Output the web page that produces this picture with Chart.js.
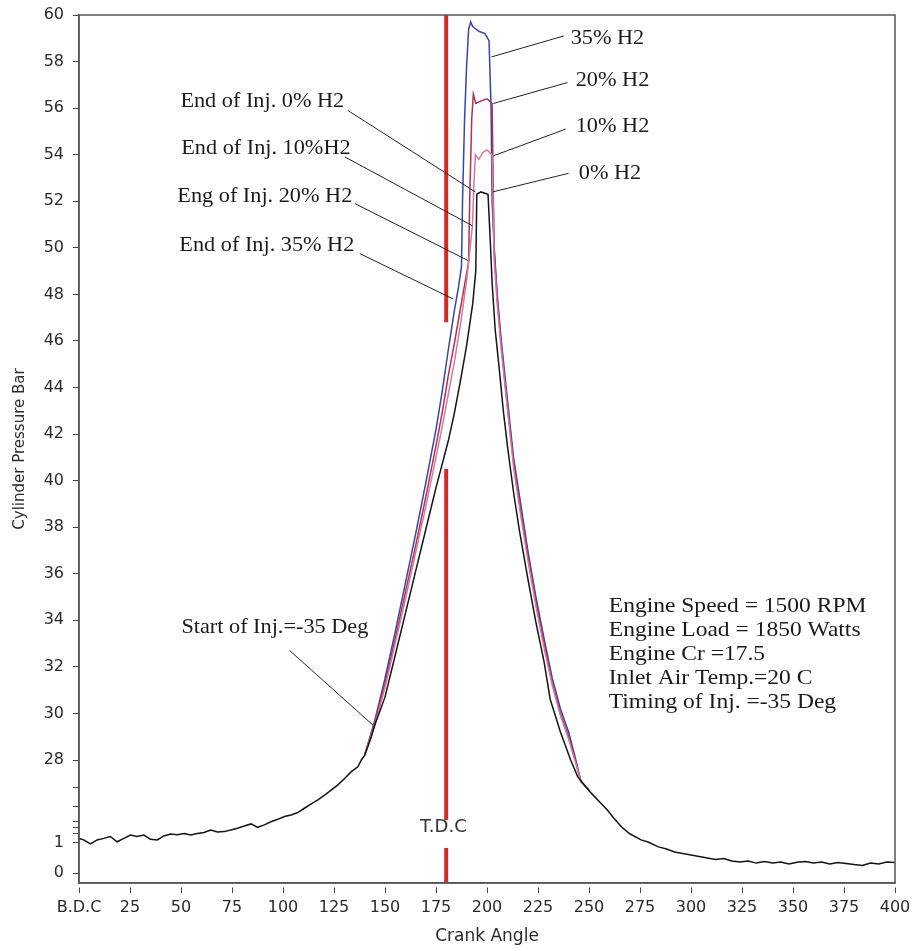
<!DOCTYPE html>
<html>
<head>
<meta charset="utf-8">
<script src="https://cdn.jsdelivr.net/npm/chart.js@4.4.1/dist/chart.umd.min.js"></script>
<style>
  html, body { margin: 0; padding: 0; background: #fff; }
  #wrap { width: 916px; height: 951px; position: relative; }
</style>
</head>
<body>
<div id="wrap"><canvas id="pressureChart" width="916" height="951"></canvas></div>
<script>
"use strict";

// ---- data (crank angle in deg, pressure in bar) ----
const angle0 = [0, 2.3, 5.6, 8.9, 12.1, 15.4, 18.7, 22, 25.2, 28.5, 31.8, 35.1, 38.4, 41.6, 44.9, 48.2, 51.5, 54.8, 58, 61.3,
  64.6, 67.9, 71.2, 74.4, 77.7, 81, 84.3, 87.6, 90.8, 94.1, 97.4, 100.7, 104, 107.2, 110.5, 113.8, 117.1, 120.4, 123.6, 126.9,
  130.2, 133.5, 136.7, 138.4, 140, 141.7, 143.3, 145, 150, 155, 160, 165, 170, 175, 178, 181, 184, 187, 190, 192, 193, 194.5,
  195, 197, 200.5, 201.5, 202.5, 204, 206, 208, 210, 213, 216, 220, 224, 228, 231, 236, 241, 244.5, 248, 251, 255, 259, 262,
  266, 270, 275.5, 279, 284, 288, 292, 296, 300, 304, 308, 312, 316, 320, 324, 328, 332, 336, 340, 344, 348, 352, 356, 360,
  364, 368, 372, 376, 380, 384, 388, 392, 396, 400];
const p0 = [2.5, 2.0, 0.97, 2.0, 2.5, 3.1, 1.4, 2.5, 3.6, 3.1, 3.6, 2.2, 2.0, 3.3, 3.9, 3.7, 4.1, 3.6, 4.1, 4.4,
  5.2, 4.6, 4.7, 5.2, 5.8, 6.5, 7.2, 6.1, 6.9, 7.9, 8.7, 9.6, 10.1, 10.9, 12.3, 13.7, 15.0, 16.6, 18.2, 19.9,
  22.0, 24.2, 25.8, 28.0, 28.2, 28.6, 29.0, 29.5, 30.7, 32.5, 34.3, 36.1, 37.9, 39.7, 40.7, 41.7, 42.9, 44.3, 45.8, 47.0, 47.6, 49.0,
  52.3, 52.4, 52.3, 50.5, 48.5, 46.5, 44.8, 43.0, 41.5, 39.5, 37.8, 35.8, 33.9, 32.2, 30.6, 29.2, 28.0, 22.5, 19.6, 17.3, 14.5, 11.7, 9.2,
  6.2, 4.0, 2.0, 1.3, 0.87, 0.8, 0.7, 0.65, 0.6, 0.55, 0.5, 0.45, 0.48, 0.4, 0.37, 0.4, 0.33, 0.38, 0.33, 0.37, 0.3, 0.36, 0.38, 0.33,
  0.37, 0.3, 0.35, 0.32, 0.28, 0.25, 0.33, 0.3, 0.37, 0.35];

const angle10 = [140, 145, 150, 155, 160, 165, 170, 175, 178, 181, 184, 187, 190, 192.8, 193.5, 194.3, 196, 198, 200, 202.5,
  203, 203.5, 205, 207, 210, 213, 216, 220, 224, 228, 232, 236, 240, 243, 246, 250];
const p10 = [28.2, 29.5, 31.1, 33.0, 34.9, 36.9, 38.9, 41.0, 42.3, 43.7, 45.1, 46.7, 48.6, 50.9, 52.5, 54.0, 53.8, 54.1, 54.2, 54.0,
  52.0, 49.5, 47.6, 45.6, 43.1, 40.6, 38.8, 36.6, 34.6, 32.8, 31.2, 29.9, 28.9, 28.0, 21.0, 18.3];

const angle20 = [140, 145, 150, 155, 160, 165, 170, 175, 178, 181, 184, 187, 190, 191, 191.5, 192.5, 193.3, 194.5, 197, 200, 202.5,
  203, 203.5, 205, 207, 210, 213, 216, 220, 224, 228, 232, 236, 240, 243, 246, 250];
const p20 = [28.2, 29.6, 31.3, 33.2, 35.2, 37.2, 39.3, 41.5, 42.9, 44.5, 45.9, 47.4, 48.9, 49.4, 52.0, 55.5, 56.6, 56.2, 56.3, 56.4, 56.2,
  53.0, 50.0, 47.8, 45.8, 43.2, 40.8, 39.0, 36.8, 34.8, 33.0, 31.3, 30.0, 29.0, 28.1, 21.0, 18.3];

const angle35 = [140, 145, 150, 155, 160, 165, 170, 175, 178, 181, 184, 186, 187.5, 188, 189, 190, 191, 192, 193, 196, 199, 201,
  202, 202.5, 203.5, 205, 207, 210, 213, 216, 220, 224, 228, 232, 236, 240, 243, 246, 250];
const p35 = [28.2, 29.7, 31.5, 33.5, 35.6, 37.7, 39.9, 42.2, 43.8, 45.6, 47.3, 48.3, 49.2, 52.0, 55.5, 57.8, 59.4, 59.7, 59.5, 59.3, 59.2, 58.9,
  56.0, 52.0, 50.0, 48.0, 46.0, 43.5, 41.0, 39.3, 37.0, 35.0, 33.2, 31.5, 30.2, 29.2, 28.2, 21.0, 18.3];

// T.D.C marker, broken where the label and the annotations sit
const tdcAngle = [180, 180, 180, 180, 180, 180, 180, 180];
const tdcP = [60, 46.8, null, 40.5, 8.5, null, 0.83, -0.33];

const xTicks = [0, 25, 50, 75, 100, 125, 150, 175, 200, 225, 250, 275, 300, 325, 350, 375, 400];
const yTicks = [0, 1, 4, 6, 8, 13, 19, 28, 30, 32, 34, 36, 38, 40, 42, 44, 46, 48, 50, 52, 54, 56, 58, 60];
const yLabelled = [0, 1, 28, 30, 32, 34, 36, 38, 40, 42, 44, 46, 48, 50, 52, 54, 56, 58, 60];

const infoLines = ["Engine Speed = 1500 RPM", "Engine Load = 1850 Watts", "Engine Cr =17.5",
  "Inlet Air Temp.=20 C", "Timing of Inj. =-35 Deg"];

// annotations: text anchor and leader line, all in data coordinates
const notes = [
  { text: "35% H2", at: [241, 59.0], line: [[237.6, 59.1], [202.2, 58.2]] },
  { text: "20% H2", at: [243.5, 57.2], line: [[239.5, 57.1], [203.1, 56.2]] },
  { text: "10% H2", at: [243.5, 55.2], line: [[238.6, 55.1], [203.1, 53.95]] },
  { text: "0% H2", at: [245, 53.2], line: [[240, 53.2], [202.7, 52.4]] },
  { text: "End of Inj. 0% H2", at: [49.7, 56.3], line: [[131.8, 55.9], [194.3, 52.4]] },
  { text: "End of Inj. 10%H2", at: [50.1, 54.25], line: [[130.4, 53.9], [192.8, 50.95]] },
  { text: "Eng of Inj. 20% H2", at: [48.2, 52.2], line: [[135.3, 51.9], [190.8, 49.45]] },
  { text: "End of Inj. 35% H2", at: [49.2, 50.1], line: [[137.7, 49.75], [183.5, 47.8]] },
  { text: "Start of Inj.=-35 Deg", at: [50.2, 33.7], line: [[103.3, 32.7], [144.1, 29.5]] }
];

// ---- broken y axis: value -> fraction of the axis height ----
const yBreaks = [[-0.33, 0], [0, 0.0115], [1, 0.0461], [28, 0.1417], [60, 1]];

function toDecimal(v) {
  let i = 1;
  while (i < yBreaks.length - 1 && v > yBreaks[i][0]) i++;
  const [v0, f0] = yBreaks[i - 1];
  const [v1, f1] = yBreaks[i];
  return f0 + (v - v0) * (f1 - f0) / (v1 - v0);
}
function fromDecimal(f) {
  let i = 1;
  while (i < yBreaks.length - 1 && f > yBreaks[i][1]) i++;
  const [v0, f0] = yBreaks[i - 1];
  const [v1, f1] = yBreaks[i];
  return v0 + (f - f0) * (v1 - v0) / (f1 - f0);
}

class BrokenScale extends Chart.LinearScale {
  buildTicks() { return yTicks.map(v => ({ value: v })); }
  getPixelForValue(v) { return this.getPixelForDecimal(toDecimal(v)); }
  getValueForPixel(p) { return fromDecimal(this.getDecimalForPixel(p)); }
}
BrokenScale.id = "broken";
BrokenScale.defaults = Chart.LinearScale.defaults;
Chart.register(BrokenScale);

const toPoints = (xs, ys) => xs.map((x, i) => ({ x: x, y: ys[i] }));

const serif = "'Liberation Serif', 'Times New Roman', serif";
const sans = "'DejaVu Sans', sans-serif";

// serif notes in the source are a bit wider than Liberation Serif
function stretchText(ctx, text, x, y, sx) {
  ctx.save();
  ctx.translate(x, y);
  ctx.scale(sx, 1);
  ctx.fillText(text, 0, 0);
  ctx.restore();
}

const notesPlugin = {
  id: "notes",
  afterDatasetsDraw(chart) {
    const { ctx, chartArea } = chart;
    const xs = chart.scales.x, ys = chart.scales.y;
    ctx.save();
    // plot frame
    ctx.strokeStyle = "#555";
    ctx.lineWidth = 1.5;
    ctx.strokeRect(chartArea.left, chartArea.top, chartArea.right - chartArea.left, chartArea.bottom - chartArea.top);

    ctx.strokeStyle = "#222";
    ctx.lineWidth = 1;
    ctx.fillStyle = "#1a1a1a";
    ctx.font = "21px " + serif;
    ctx.textBaseline = "middle";
    notes.forEach(n => {
      ctx.beginPath();
      ctx.moveTo(xs.getPixelForValue(n.line[0][0]), ys.getPixelForValue(n.line[0][1]));
      ctx.lineTo(xs.getPixelForValue(n.line[1][0]), ys.getPixelForValue(n.line[1][1]));
      ctx.stroke();
      stretchText(ctx, n.text, xs.getPixelForValue(n.at[0]), ys.getPixelForValue(n.at[1]), 1.06);
    });

    // engine conditions block
    const ix = xs.getPixelForValue(259.7);
    let iy = ys.getPixelForValue(34.6);
    infoLines.forEach(t => { stretchText(ctx, t, ix, iy, 1.12); iy += 24; });

    // T.D.C label
    ctx.font = "18px " + sans;
    ctx.textAlign = "center";
    ctx.fillStyle = "#333";
    ctx.fillText("T.D.C", xs.getPixelForValue(178.6), ys.getPixelForValue(6.0));
    ctx.restore();
  }
};

const curve = (label, xs, ys, color, order) => ({
  label: label, data: toPoints(xs, ys), borderColor: color, borderWidth: 1.5,
  pointRadius: 0, tension: 0, fill: false, order: order
});

new Chart(document.getElementById("pressureChart").getContext("2d"), {
  type: "line",
  data: {
    datasets: [
      curve("0% H2", angle0, p0, "#141414", 0),
      curve("10% H2", angle10, p10, "#d27aa4", 1),
      curve("20% H2", angle20, p20, "#b0304e", 2),
      curve("35% H2", angle35, p35, "#3446a8", 3),
      { label: "T.D.C", data: toPoints(tdcAngle, tdcP), borderColor: "#d3282c", borderWidth: 4,
        pointRadius: 0, spanGaps: false, order: 5 }
    ]
  },
  options: {
    responsive: false,
    animation: false,
    events: [],
    layout: { padding: { top: 15, right: 21, bottom: 0, left: 0 } },
    plugins: { legend: { display: false }, tooltip: { enabled: false } },
    scales: {
      x: {
        type: "linear", min: 0, max: 400,
        afterBuildTicks: s => { s.ticks = xTicks.map(v => ({ value: v })); },
        afterFit: s => { s.height = 68; },
        border: { display: true, color: "#555", width: 1.5 },
        grid: { display: true, drawOnChartArea: false, drawTicks: true, tickLength: 10,
          tickColor: "#444", tickBorderDash: [0, 4, 6, 0] },
        ticks: { color: "#2a2a2a", font: { family: sans, size: 16 }, padding: 5, maxRotation: 0, autoSkip: false,
          callback: v => (v === 0 ? "B.D.C" : String(v)) },
        title: { display: true, text: "Crank Angle", color: "#2a2a2a", font: { family: sans, size: 17 },
          padding: { top: 0, bottom: 4 } }
      },
      y: {
        type: "broken", min: -0.33, max: 60,
        afterFit: s => { s.width = 79; },
        border: { display: true, color: "#555", width: 1.5 },
        grid: { display: true, drawOnChartArea: false, drawTicks: true, tickLength: 11,
          tickColor: "#444", tickBorderDash: [0, 5, 6, 0] },
        ticks: { color: "#2a2a2a", font: { family: sans, size: 16 }, padding: 4, autoSkip: false,
          callback: v => (yLabelled.includes(v) ? String(v) : "") },
        title: { display: true, text: "Cylinder Pressure Bar", color: "#2a2a2a", font: { family: sans, size: 15 },
          padding: { top: 11, bottom: 0 } }
      }
    }
  },
  plugins: [notesPlugin]
});
</script>
</body>
</html>
